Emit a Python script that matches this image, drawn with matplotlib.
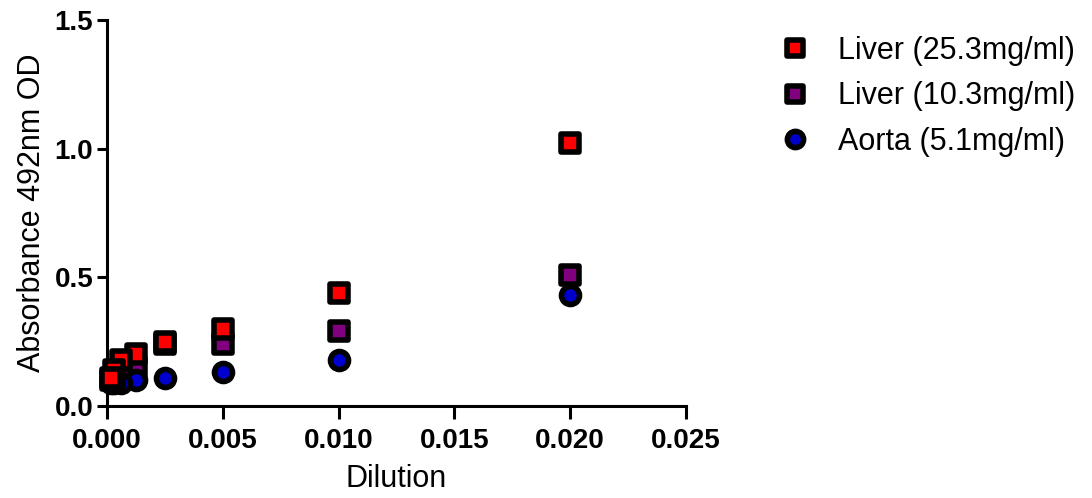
import numpy as np
import matplotlib.pyplot as plt
from matplotlib.markers import MarkerStyle

plt.rcParams['font.family'] = ['Liberation Sans', 'DejaVu Sans']

# Dilution series (x) and absorbance readings
dilution = [0.02, 0.01, 0.005, 0.0025, 0.00125, 0.000625, 0.0003125, 0.00015625]
liver_25 = [1.02, 0.44, 0.30, 0.25, 0.20, 0.18, 0.14, 0.11]
liver_10 = [0.51, 0.29, 0.24, 0.24, 0.15, 0.12, 0.11, 0.10]
aorta_5 = [0.43, 0.18, 0.13, 0.11, 0.10, 0.09, 0.09, 0.09]

labels = ['Liver (25.3mg/ml)', 'Liver (10.3mg/ml)', 'Aorta (5.1mg/ml)']
colors = ['#ff0000', '#800080', '#0000cc']

sq = MarkerStyle('s', joinstyle='round')

fig = plt.figure(figsize=(10.92, 4.98), dpi=100)
ax = fig.add_axes([0.098, 0.185, 0.53, 0.775])

h1, = ax.plot(dilution, liver_25, ls='none', marker=sq, ms=12.5, mfc=colors[0], mec='black', mew=4,
              label=labels[0], zorder=5, clip_on=False)
h2, = ax.plot(dilution, liver_10, ls='none', marker=sq, ms=12.5, mfc=colors[1], mec='black', mew=4,
              label=labels[1], zorder=3, clip_on=False)
h3, = ax.plot(dilution, aorta_5, ls='none', marker='o', ms=13, mfc=colors[2], mec='black', mew=4,
              label=labels[2], zorder=4, clip_on=False)

ax.set_xlim(0, 0.025)
ax.set_ylim(0, 1.5)
ax.set_xticks(np.arange(0, 0.0251, 0.005))
ax.set_yticks([0, 0.5, 1.0, 1.5])
ax.xaxis.set_major_formatter(plt.FormatStrFormatter('%.3f'))
ax.yaxis.set_major_formatter(plt.FormatStrFormatter('%.1f'))

for s in ['top', 'right']:
    ax.spines[s].set_visible(False)
for s in ['left', 'bottom']:
    ax.spines[s].set_linewidth(2.2)
ax.tick_params(width=2.2, length=7, labelsize=20)
ax.tick_params(axis='x', length=9, pad=7)
ax.tick_params(axis='y', pad=3)
for t in ax.get_xticklabels() + ax.get_yticklabels():
    t.set_fontweight('bold')

ax.set_xlabel('Dilution', fontsize=22, labelpad=7)
ax.set_ylabel('Absorbance 492nm OD', fontsize=22, labelpad=5)

fig.legend(handles=[h1, h2, h3], loc='upper left', bbox_to_anchor=(0.689, 0.983), frameon=False,
           fontsize=22, handlelength=1.0, handletextpad=0.9, labelspacing=0.5, markerscale=0.9)

fig.savefig('out.png', dpi=100)
